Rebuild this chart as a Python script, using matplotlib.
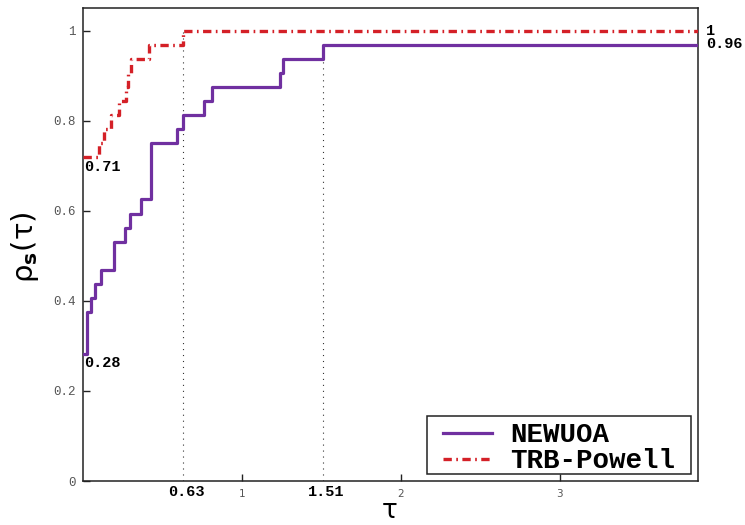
import matplotlib
matplotlib.use("Agg")
import matplotlib.pyplot as plt
from matplotlib.patches import Rectangle
import numpy as np

plt.rcParams['lines.scale_dashes'] = False

# performance profile data (32 problems)
n_prob = 32
newuoa_tau = [0, 0.025, 0.055, 0.075, 0.115, 0.20, 0.265, 0.295, 0.365, 0.43,
              0.595, 0.63, 0.765, 0.815, 1.24, 1.26, 1.51]
newuoa_cnt = [9, 12, 13, 14, 15, 17, 18, 19, 20, 24,
              25, 26, 27, 28, 29, 30, 31]
trb_tau = [0, 0.105, 0.135, 0.18, 0.23, 0.27, 0.285, 0.305, 0.415, 0.63]
trb_cnt = [23, 24, 25, 26, 27, 28, 29, 30, 31, 32]

tau_max = 3.87
marks = [0.63, 1.51]
mark_labels = ["0.63", "1.51"]

purple = '#7030a0'
red = '#d42027'
mono = 'Liberation Mono'

fig = plt.figure(figsize=(7.45, 5.25), dpi=100)
ax = fig.add_axes([82.7 / 745, 1 - 481 / 525, (698 - 82.7) / 745, (481 - 8) / 525])

x1 = np.array(newuoa_tau + [tau_max])
y1 = np.array(newuoa_cnt + [newuoa_cnt[-1]]) / n_prob
x2 = np.array(trb_tau + [tau_max])
y2 = np.array(trb_cnt + [trb_cnt[-1]]) / n_prob

ax.step(x1, y1, where='post', color=purple, lw=2.3, label='NEWUOA', zorder=3)
ax.step(x2, y2, where='post', color=red, lw=2.4, dashes=(6, 3.2, 1.2, 3.2),
        label='TRB-Powell', zorder=3)

# dotted markers down to the axis (0.63 -> TRB reaches 1, 1.51 -> NEWUOA top)
tops = [y2[np.searchsorted(x2, marks[0], side='right') - 1],
        y1[np.searchsorted(x1, marks[1], side='right') - 1]]
for m, t in zip(marks, tops):
    ax.plot([m, m], [0, t], color='#333333', lw=0.8, dashes=(0.8, 3.5), zorder=2)

ax.set_xlim(0, tau_max)
ax.set_ylim(0, 1.05)
ax.set_xticks([1, 2, 3])
ax.set_yticks([0, 0.2, 0.4, 0.6, 0.8, 1])
ax.set_yticklabels(['0', '0.2', '0.4', '0.6', '0.8', '1'])
ax.tick_params(axis='both', direction='in', length=5, width=1, colors='#222222',
               labelcolor='#555555')
ax.tick_params(axis='y', labelsize=9, pad=5)
ax.tick_params(axis='x', labelsize=7.5, pad=6)
for lab in ax.get_yticklabels():
    lab.set_family(mono)
for sp in ax.spines.values():
    sp.set_linewidth(1.1)
    sp.set_color('#222222')

# value annotations
ax.text(0.01, 0.698, '0.71', family=mono, weight='bold', fontsize=11,
        va='center', ha='left')
ax.text(0.01, 0.263, '0.28', family=mono, weight='bold', fontsize=11,
        va='center', ha='left')
ax.text(tau_max + 0.05, 1.0, '1', family=mono, weight='bold', fontsize=11,
        va='center', ha='left', clip_on=False)
ax.text(tau_max + 0.05, 0.969, '0.96', family=mono, weight='bold', fontsize=11,
        va='center', ha='left', clip_on=False)
for m, lab in zip(marks, mark_labels):
    ax.text(m + 0.02, -0.025, lab, family=mono, weight='bold', fontsize=11,
            va='center', ha='center', clip_on=False)

fig.text(390 / 745, 1 - 518 / 525, 'τ', fontsize=19, ha='center', va='baseline')
fig.text(25 / 745, 1 - 247 / 525, r'ρ$_{\mathbf{s}}$(τ)', fontsize=21,
         rotation=90, ha='center', va='center')

# legend: no built-in frame, box drawn separately with wider side padding
leg = ax.legend(loc='lower left', bbox_to_anchor=((443 - 82.7) / 615.3, (481 - 474.5) / 473),
                prop={'family': mono, 'weight': 'bold', 'size': 19.8},
                handlelength=1.8, handletextpad=0.65, borderaxespad=0,
                borderpad=0, labelspacing=0.0, frameon=False)
ax.add_patch(Rectangle(((427 - 82.7) / 615.3, (481 - 474) / 473),
                       (691 - 427) / 615.3, (474 - 416) / 473,
                       transform=ax.transAxes, fill=True, facecolor='white',
                       edgecolor='#222222', lw=1.1, zorder=4))
leg.set_zorder(5)

fig.savefig('out.png', dpi=100)
